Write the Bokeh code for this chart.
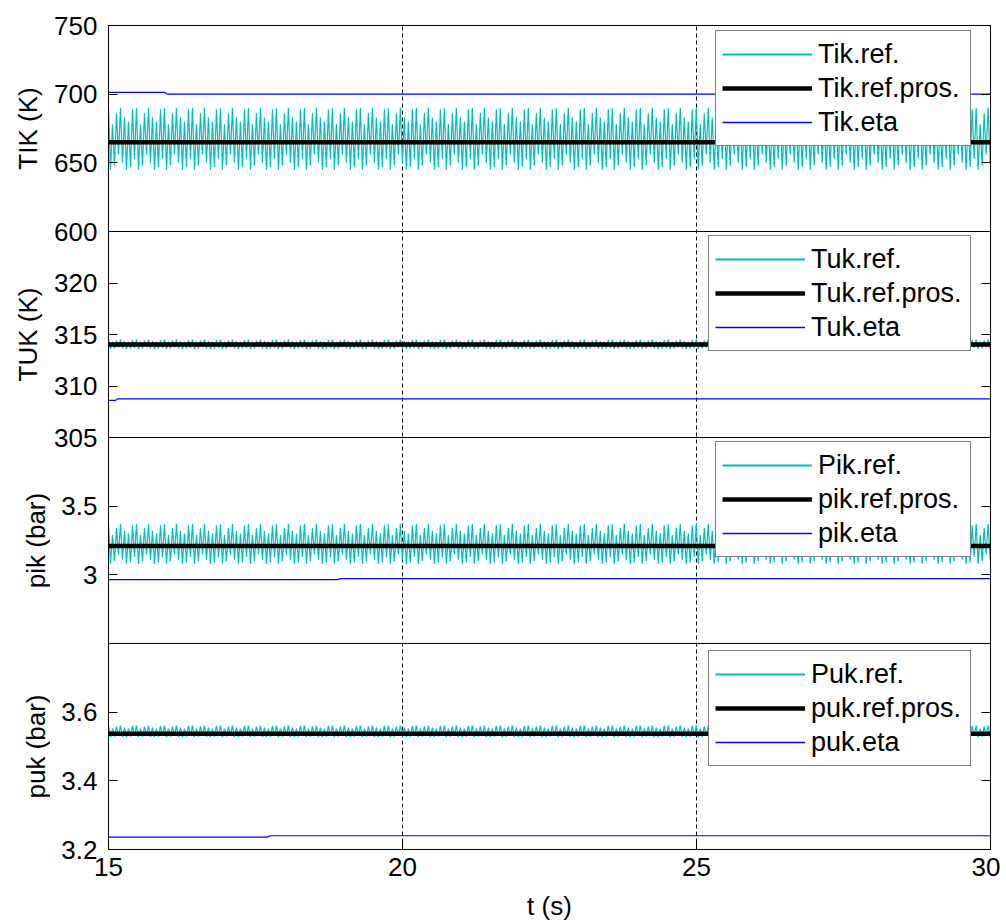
import numpy as np
from bokeh.plotting import figure
from bokeh.layouts import row, column
from bokeh.models import (Range1d, LinearAxis, FixedTicker, Legend, LegendItem, Span)
from bokeh.core.properties import value
from bokeh.embed import file_html
from bokeh.resources import INLINE

# ---------------- data ----------------
X_RANGE = (15.0, 30.0)
X_TICKS = [15, 20, 25, 30]
X_GRID = [20, 25]
X_TITLE = "t (s)"

PANEL_NAMES = ["tik", "tuk", "pik", "puk"]
Y_TITLES = ["TIK (K)", "TUK (K)", "pik (bar)", "puk (bar)"]
Y_LIMITS = [(600.0, 750.0), (305.0, 325.0), (2.5, 4.0), (3.2, 3.8)]
Y_TICKS = [[600, 650, 700, 750], [305, 310, 315, 320], [3.0, 3.5], [3.2, 3.4, 3.6]]
Y_TICK_LABELS = [["600", "650", "700", "750"], ["305", "310", "315", "320"],
                 ["3", "3.5"], ["3.2", "3.4", "3.6"]]

LEGEND_LABELS = [
    ["Tik.ref.", "Tik.ref.pros.", "Tik.eta"],
    ["Tuk.ref.", "Tuk.ref.pros.", "Tuk.eta"],
    ["Pik.ref.", "pik.ref.pros.", "pik.eta"],
    ["Puk.ref.", "puk.ref.pros.", "puk.eta"],
]

# reference signals (fast oscillation): peak / trough values per cycle over one beat
REF_HALF_PERIOD = 0.034
TIK_REF_UPPER = [690, 678, 686, 690, 683, 680, 689]
TIK_REF_LOWER = [645, 648, 656, 650, 645, 647, 653]
TUK_REF_UPPER = [314.5, 314.3, 314.4, 314.5, 314.35, 314.3, 314.45]
TUK_REF_LOWER = [313.6, 313.65, 313.75, 313.65, 313.6, 313.65, 313.7]
PIK_REF_UPPER = [3.37, 3.29, 3.34, 3.37, 3.32, 3.30, 3.36]
PIK_REF_LOWER = [3.08, 3.10, 3.15, 3.11, 3.08, 3.09, 3.13]
PUK_REF_UPPER = [3.561, 3.552, 3.558, 3.561, 3.555, 3.552, 3.560]
PUK_REF_LOWER = [3.527, 3.529, 3.532, 3.528, 3.527, 3.529, 3.531]

# averaged reference ("pros.")
REF_PROS_T = [15.0, 30.0]
TIK_REF_PROS = [665.0, 665.0]
TUK_REF_PROS = [314.03, 314.03]
PIK_REF_PROS = [3.21, 3.21]
PUK_REF_PROS = [3.537, 3.537]

# estimated values
TIK_ETA_T = [15.0, 15.95, 16.0, 30.0]
TIK_ETA = [701.3, 701.3, 700.1, 700.1]
TUK_ETA_T = [15.0, 15.12, 15.15, 30.0]
TUK_ETA = [308.6, 308.6, 308.75, 308.75]
PIK_ETA_T = [15.0, 18.9, 18.95, 30.0]
PIK_ETA = [2.965, 2.965, 2.972, 2.972]
PUK_ETA_T = [15.0, 17.7, 17.75, 30.0]
PUK_ETA = [3.236, 3.236, 3.240, 3.240]

REF_UPPER = [TIK_REF_UPPER, TUK_REF_UPPER, PIK_REF_UPPER, PUK_REF_UPPER]
REF_LOWER = [TIK_REF_LOWER, TUK_REF_LOWER, PIK_REF_LOWER, PUK_REF_LOWER]
REF_PROS = [TIK_REF_PROS, TUK_REF_PROS, PIK_REF_PROS, PUK_REF_PROS]
ETA_T = [TIK_ETA_T, TUK_ETA_T, PIK_ETA_T, PUK_ETA_T]
ETA = [TIK_ETA, TUK_ETA, PIK_ETA, PUK_ETA]

# ---------------- styles / layout ----------------
CYAN = "#00bfbf"
BLUE = "#0000ff"
FONT = "Liberation Sans"
TICK_FS = "26px"
LEG_FS = "27px"
NP = len(PANEL_NAMES)

YT_W = 50            # width of y-title strip
FRAME_LEFT = 108
FRAME_RIGHT_PAD = 10
FRAME_TOP = 25
FRAME_H = 824
MAIN_BOTTOM = 38
XT_H = 37
TOTAL_W = 1000

LEG_X = [607, 600, 607, 600]
LEG_Y = [703, 498, 292, 83]
LEG_LABEL_W = [146, 153, 146, 153]
YTITLE_CENTER_X = [27, 27, 35, 35]


def ref_wave(upper, lower):
    n = int(round((X_RANGE[1] - X_RANGE[0]) / REF_HALF_PERIOD)) + 1
    t = X_RANGE[0] + np.arange(n) * REF_HALF_PERIOD
    y = [upper[(i // 2) % len(upper)] if i % 2 == 0 else lower[(i // 2) % len(lower)]
         for i in range(n)]
    return t, y


main_h = FRAME_TOP + FRAME_H + MAIN_BOTTOM
p = figure(width=TOTAL_W - YT_W, height=main_h, x_range=Range1d(*X_RANGE),
           y_range=Range1d(0, NP), output_backend="svg", toolbar_location=None,
           min_border_left=FRAME_LEFT - YT_W, min_border_right=FRAME_RIGHT_PAD,
           min_border_top=FRAME_TOP, min_border_bottom=MAIN_BOTTOM)
p.background_fill_color = "white"
p.border_fill_color = "white"
p.outline_line_color = "black"
p.outline_line_width = 1

# stacked panel ranges
tick_pos = []
tick_lab = {}
for k, (name, (lo, hi)) in enumerate(zip(PANEL_NAMES, Y_LIMITS)):
    span = hi - lo
    p.extra_y_ranges[name] = Range1d(lo - (NP - 1 - k) * span, hi + k * span)
    for v, s in zip(Y_TICKS[k], Y_TICK_LABELS[k]):
        pos = round((NP - 1 - k) + (v - lo) / span, 6)
        tick_pos.append(pos)
        tick_lab[pos] = s

yax = p.yaxis[0]
yax.ticker = FixedTicker(ticks=tick_pos)
yax.major_label_overrides = tick_lab
yax.major_label_text_font = FONT
yax.major_label_text_font_size = TICK_FS
yax.major_label_text_color = "black"
yax.major_label_standoff = 11
yax.major_tick_in = 9
yax.major_tick_out = 0
yax.minor_tick_line_color = None
yax.axis_line_color = "black"

rax = LinearAxis(ticker=FixedTicker(ticks=tick_pos), major_label_text_color=None,
                 major_label_text_font_size="1px",
                 major_tick_in=9, major_tick_out=0, minor_tick_line_color=None,
                 axis_line_color="black", major_label_standoff=0)
p.add_layout(rax, "right")

xax = p.xaxis[0]
xax.ticker = FixedTicker(ticks=X_TICKS)
xax.major_label_text_font = FONT
xax.major_label_text_font_size = TICK_FS
xax.major_label_text_color = "black"
xax.major_label_standoff = 8
xax.major_tick_in = 9
xax.major_tick_out = 0
xax.minor_tick_line_color = None
xax.axis_line_color = "black"

p.xgrid.ticker = FixedTicker(ticks=X_GRID)
p.xgrid.grid_line_color = "black"
p.xgrid.grid_line_dash = "4 3"
p.xgrid.grid_line_width = 1
p.ygrid.visible = False

STYLES = [dict(line_color=CYAN, line_width=1.2),
          dict(line_color="black", line_width=4.5),
          dict(line_color=BLUE, line_width=1.2)]
LEGEND_STYLES = [dict(line_color=CYAN, line_width=1.8),
                 dict(line_color="black", line_width=4.5),
                 dict(line_color=BLUE, line_width=1.6)]

panel_legend_renderers = []
for k, name in enumerate(PANEL_NAMES):
    t_ref, y_ref = ref_wave(REF_UPPER[k], REF_LOWER[k])
    p.line(t_ref, y_ref, y_range_name=name, **STYLES[0])
    p.line(REF_PROS_T, REF_PROS[k], y_range_name=name, **STYLES[1])
    p.line(ETA_T[k], ETA[k], y_range_name=name, **STYLES[2])
    # hidden twins used only to draw the legend samples
    twins = [p.line(REF_PROS_T, REF_PROS[k], y_range_name=name, visible=False, **st)
             for st in LEGEND_STYLES]
    panel_legend_renderers.append(twins)

for k in range(NP):
    rr = panel_legend_renderers[k]
    leg = Legend(items=[LegendItem(label=LEGEND_LABELS[k][j], renderers=[rr[j]]) for j in range(3)],
                 location=(LEG_X[k], LEG_Y[k]),
                 label_text_font=FONT, label_text_font_size=LEG_FS,
                 label_text_color="black",
                 glyph_width=90, glyph_height=34, label_height=34,
                 label_width=LEG_LABEL_W[k], label_standoff=6,
                 padding=6, spacing=0, margin=0,
                 border_line_color="black", border_line_width=1,
                 background_fill_color="white", background_fill_alpha=1.0)
    p.add_layout(leg)

# panel separators
for k in range(1, NP):
    p.add_layout(Span(location=k, dimension="width", line_color="black", line_width=1))

# y-title strip (left)
yt = figure(width=YT_W, height=main_h, x_range=Range1d(0, YT_W), y_range=Range1d(0, NP),
            output_backend="svg", toolbar_location=None, x_axis_type=None, y_axis_type=None,
            min_border_left=0, min_border_right=0, min_border_top=FRAME_TOP,
            min_border_bottom=MAIN_BOTTOM)
yt.outline_line_color = None
yt.grid.visible = False
yt.text(x=YTITLE_CENTER_X, y=[NP - 0.5 - k for k in range(NP)], text=Y_TITLES,
        angle=np.pi / 2, text_align="center", text_baseline="middle",
        text_font=value(FONT), text_font_size="26px", text_color="black")

# x-title strip (bottom)
xt = figure(width=TOTAL_W, height=XT_H, x_range=Range1d(*X_RANGE), y_range=Range1d(0, 1),
            output_backend="svg", toolbar_location=None, x_axis_type=None, y_axis_type=None,
            min_border_left=FRAME_LEFT, min_border_right=FRAME_RIGHT_PAD,
            min_border_top=0, min_border_bottom=0)
xt.outline_line_color = None
xt.grid.visible = False
xt.text(x=[sum(X_RANGE) / 2], y=[0.5], text=[X_TITLE], text_align="center",
        text_baseline="middle", text_font=value(FONT), text_font_size="26px",
        text_color="black")

layout = column(row(yt, p, spacing=0), xt, spacing=0)
open("out.html", "w").write(file_html(layout, INLINE))
